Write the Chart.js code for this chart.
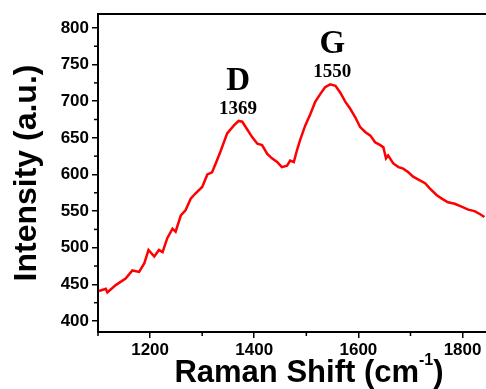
<!DOCTYPE html>
<html>
<head>
<meta charset="utf-8">
<script src="https://cdn.jsdelivr.net/npm/chart.js@4.4.1/dist/chart.umd.min.js"></script>
<style>
    body { margin: 0; background: #fff; }
    canvas { display: block; }
</style>
</head>
<body>
<canvas id="ramanChart" width="486" height="389"></canvas>
<script>
// Datos del espectro Raman
const ramanShift = [1102, 1115, 1118, 1134, 1153, 1166, 1179, 1189, 1197, 1208,
    1217, 1224, 1233, 1243, 1249, 1259, 1268, 1278, 1287, 1300,
    1310, 1319, 1326, 1335, 1348, 1361, 1370, 1377, 1386, 1396,
    1406, 1415, 1425, 1434, 1444, 1453, 1463, 1469, 1476, 1482,
    1488, 1498, 1508, 1517, 1527, 1536, 1546, 1556, 1565, 1575,
    1584, 1594, 1603, 1613, 1623, 1632, 1642, 1648, 1653, 1657,
    1667, 1677, 1686, 1696, 1705, 1718, 1728, 1737, 1750, 1760,
    1772, 1785, 1798, 1811, 1823, 1833, 1842];
const intensity = [441, 444, 439, 449, 458, 469, 467, 479, 497, 488,
    497, 494, 513, 526, 522, 544, 551, 567, 574, 583,
    600, 603, 615, 631, 656, 667, 673, 672, 662, 651,
    642, 640, 628, 622, 617, 610, 612, 619, 617, 633,
    647, 667, 683, 699, 710, 719, 723, 721, 712, 699,
    690, 678, 665, 658, 653, 644, 640, 637, 622, 626,
    615, 610, 608, 603, 597, 592, 588, 581, 572, 567,
    562, 560, 556, 552, 550, 546, 542];

// Picos marcados
const peakNames = ['D', 'G'];
const peakShift = [1369, 1550];
const peakIntensity = [673, 723];

// Marcas de los ejes
const xTicks = [1200, 1400, 1600, 1800];
const xMinorTicks = [1100, 1300, 1500, 1700];
const yTicks = [400, 450, 500, 550, 600, 650, 700, 750, 800];
const yMinorTicks = [425, 475, 525, 575, 625, 675, 725, 775];

function drawLine(ctx, x1, y1, x2, y2) {
    ctx.beginPath();
    ctx.moveTo(x1, y1);
    ctx.lineTo(x2, y2);
    ctx.stroke();
}

// Plugin: marcas menores, borde superior, etiquetas de picos y título del eje X
const extrasPlugin = {
    id: 'extras',
    afterDraw(chart) {
        const { ctx, chartArea } = chart;
        const x = chart.scales.x;
        const y = chart.scales.y;
        ctx.save();
        ctx.strokeStyle = '#000';
        ctx.lineWidth = 1.5;
        xMinorTicks.forEach(v => {
            const px = x.getPixelForValue(v);
            drawLine(ctx, px, chartArea.bottom, px, chartArea.bottom + 4);
        });
        yMinorTicks.forEach(v => {
            const py = y.getPixelForValue(v);
            drawLine(ctx, chartArea.left - 4, py, chartArea.left, py);
        });
        ctx.lineWidth = 2;
        drawLine(ctx, chartArea.left - 1, chartArea.top, chartArea.right, chartArea.top);

        // Etiquetas de los picos
        ctx.fillStyle = '#000';
        ctx.textAlign = 'center';
        ctx.textBaseline = 'alphabetic';
        peakNames.forEach((name, i) => {
            const px = x.getPixelForValue(peakShift[i]);
            const py = y.getPixelForValue(peakIntensity[i]);
            ctx.font = 'bold 19px "Liberation Serif"';
            ctx.fillText(String(peakShift[i]), px, py - 7);
            ctx.font = 'bold 33px "Liberation Serif"';
            ctx.fillText(name, px, py - 31);
        });

        // Título del eje X con superíndice
        const mainText = 'Raman Shift (cm';
        const supText = '-1';
        const endText = ')';
        const mainFont = 'bold 31px "Liberation Sans"';
        const supFont = 'bold 16px "Liberation Sans"';
        ctx.font = mainFont;
        const w1 = ctx.measureText(mainText).width;
        const w3 = ctx.measureText(endText).width;
        ctx.font = supFont;
        const w2 = ctx.measureText(supText).width;
        const total = w1 + w2 + w3;
        const baseY = 382;
        let startX = (chartArea.left + chartArea.right) / 2 + 17 - total / 2;
        ctx.textAlign = 'left';
        ctx.font = mainFont;
        ctx.fillText(mainText, startX, baseY);
        ctx.font = supFont;
        ctx.fillText(supText, startX + w1, baseY - 17);
        ctx.font = mainFont;
        ctx.fillText(endText, startX + w1 + w2, baseY);
        ctx.restore();
    }
};

const tickFont = { family: '"Liberation Sans"', size: 17, weight: 'bold' };

new Chart(document.getElementById('ramanChart'), {
    type: 'line',
    data: {
        datasets: [{
            data: ramanShift.map((v, i) => ({ x: v, y: intensity[i] })),
            borderColor: '#ff0000',
            borderWidth: 2.5,
            pointRadius: 0,
            tension: 0,
            fill: false
        }]
    },
    options: {
        responsive: false,
        animation: false,
        devicePixelRatio: 1,
        layout: { padding: { top: 14, right: 0, left: 0, bottom: 0 } },
        plugins: {
            legend: { display: false },
            tooltip: { enabled: false }
        },
        scales: {
            x: {
                type: 'linear',
                min: 1100,
                max: 1845,
                afterBuildTicks: scale => { scale.ticks = xTicks.map(v => ({ value: v })); },
                afterFit: scale => { scale.height = 57; },
                grid: { drawOnChartArea: false, drawTicks: true, tickLength: 6, color: '#000', lineWidth: 1.5 },
                border: { display: true, color: '#000', width: 2 },
                ticks: { color: '#000', font: tickFont, padding: 2, maxRotation: 0, callback: v => String(v) }
            },
            y: {
                type: 'linear',
                min: 385,
                max: 819,
                afterBuildTicks: scale => { scale.ticks = yTicks.map(v => ({ value: v })); },
                afterFit: scale => { scale.width = 98; },
                grid: { drawOnChartArea: false, drawTicks: true, tickLength: 6, color: '#000', lineWidth: 1.5 },
                border: { display: true, color: '#000', width: 2 },
                ticks: { color: '#000', font: tickFont, padding: 3, callback: v => String(v) },
                title: {
                    display: true,
                    text: 'Intensity (a.u.)',
                    color: '#000',
                    font: { family: '"Liberation Sans"', size: 32, weight: 'bold', lineHeight: 1.1 },
                    padding: { top: 10, bottom: 0 }
                }
            }
        }
    },
    plugins: [extrasPlugin]
});
</script>
</body>
</html>
